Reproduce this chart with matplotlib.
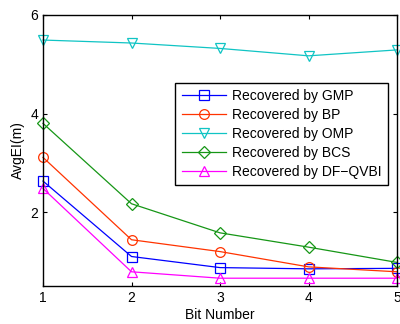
import matplotlib
matplotlib.use("Agg")
import matplotlib.pyplot as plt

plt.rcParams['font.family'] = ['Liberation Sans', 'DejaVu Sans']

bits = [1, 2, 3, 4, 5]
gmp = [2.63, 1.10, 0.875, 0.85, 0.86]
bp = [3.11, 1.44, 1.20, 0.89, 0.79]
omp = [5.49, 5.43, 5.32, 5.17, 5.29]
bcs = [3.80, 2.17, 1.58, 1.29, 0.98]
dfqvbi = [2.48, 0.79, 0.66, 0.66, 0.66]

series = [
    ("Recovered by GMP", gmp, "#0000ff", "s"),
    ("Recovered by BP", bp, "#ff3300", "o"),
    ("Recovered by OMP", omp, "#10c4c4", "v"),
    ("Recovered by BCS", bcs, "#169616", "D"),
    ("Recovered by DF\u2212QVBI", dfqvbi, "#ff00ff", "^"),
]

fig = plt.figure(figsize=(4, 3.24), dpi=100)
ax = fig.add_axes([0.1075, 0.117, 0.885, 0.837])

for label, vals, color, marker in series:
    ms = 6 if marker == "D" else 7
    ax.plot(bits, vals, color=color, marker=marker, markersize=ms,
            markerfacecolor="none", markeredgecolor=color, linewidth=0.9,
            markeredgewidth=0.9, label=label, clip_on=False)

ax.set_xlim(1, 5)
ax.set_ylim(0.5, 6)
ax.set_xticks(bits)
ax.set_yticks([2, 4, 6])
ax.tick_params(direction="in", labelsize=10, length=3, top=True, right=True)
for s in ax.spines.values():
    s.set_linewidth(1.0)
ax.set_xlabel("Bit Number", fontsize=10, labelpad=2)
ax.set_ylabel("AvgEI(m)", fontsize=10, labelpad=4)

leg = ax.legend(loc="upper right", bbox_to_anchor=(0.975, 0.749), fontsize=10,
                fancybox=False, framealpha=1, edgecolor="black",
                borderpad=0.45, labelspacing=0.36, handlelength=3.2,
                handletextpad=0.45, borderaxespad=0)
leg.get_frame().set_linewidth(1.0)

fig.savefig("out.png", dpi=100)
